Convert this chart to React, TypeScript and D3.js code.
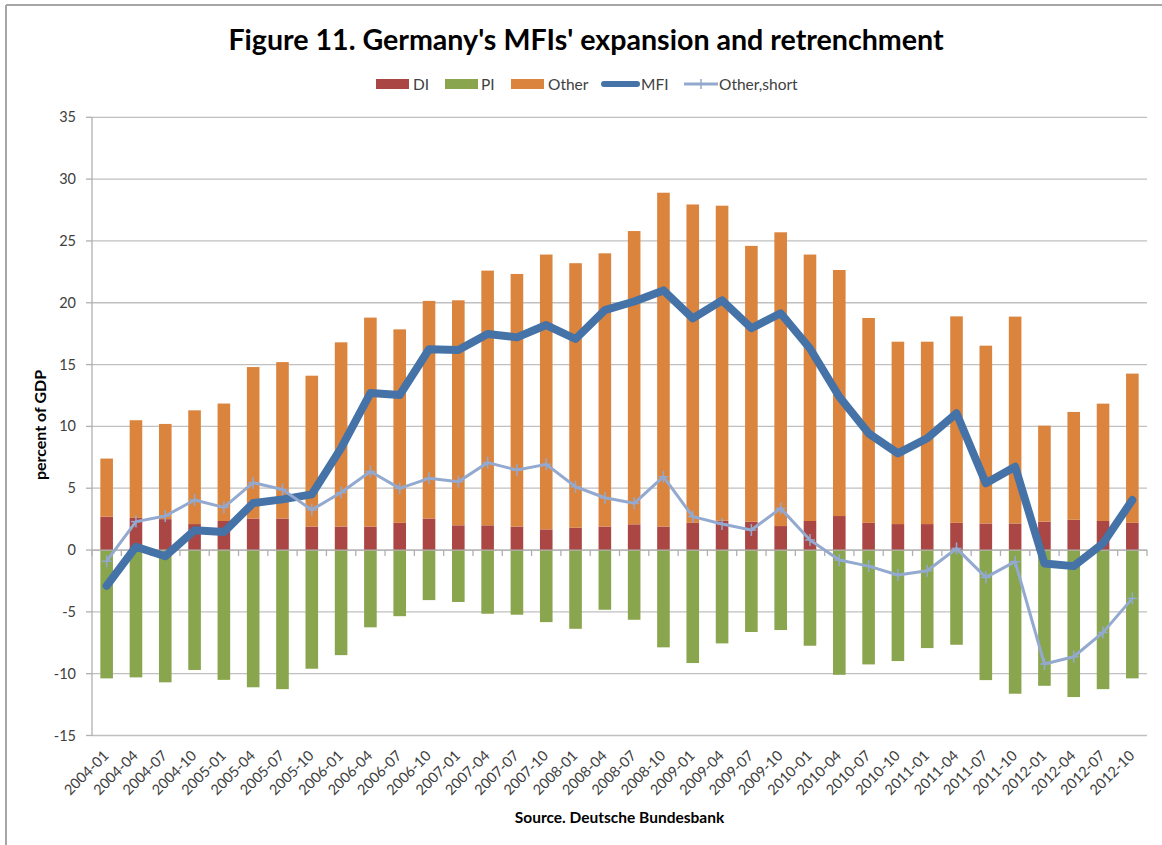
import React from "react";
import * as d3 from "d3";

const categories = [
  "2004-01","2004-04","2004-07","2004-10",
  "2005-01","2005-04","2005-07","2005-10",
  "2006-01","2006-04","2006-07","2006-10",
  "2007-01","2007-04","2007-07","2007-10",
  "2008-01","2008-04","2008-07","2008-10",
  "2009-01","2009-04","2009-07","2009-10",
  "2010-01","2010-04","2010-07","2010-10",
  "2011-01","2011-04","2011-07","2011-10",
  "2012-01","2012-04","2012-07","2012-10",
];

// DI (positive, bottom of positive stack)
const diValues = [
  2.7, 2.6, 2.5, 2.1,
  2.35, 2.55, 2.55, 1.9,
  1.9, 1.9, 2.2, 2.55,
  2.0, 2.0, 1.9, 1.67,
  1.8, 1.9, 2.08, 1.9,
  2.2, 2.37, 2.3, 1.94,
  2.35, 2.75, 2.2, 2.1,
  2.1, 2.2, 2.15, 2.15,
  2.3, 2.45, 2.35, 2.2,
];

// Top of positive stack (DI + Other)
const positiveTotals = [
  7.4, 10.5, 10.2, 11.3,
  11.85, 14.8, 15.2, 14.1,
  16.8, 18.8, 17.85, 20.15,
  20.2, 22.6, 22.33, 23.9,
  23.2, 24.0, 25.8, 28.9,
  27.95, 27.85, 24.6, 25.7,
  23.9, 22.65, 18.77, 16.85,
  16.85, 18.9, 16.53, 18.88,
  10.06, 11.17, 11.84, 14.27,
];

// Other = total - DI
const otherValues = positiveTotals.map((t, i) => +(t - diValues[i]).toFixed(2));

// PI (negative)
const piValues = [
  -10.38, -10.3, -10.7, -9.7,
  -10.5, -11.1, -11.25, -9.6,
  -8.5, -6.25, -5.35, -4.05,
  -4.2, -5.15, -5.23, -5.83,
  -6.37, -4.83, -5.64, -7.87,
  -9.14, -7.55, -6.63, -6.47,
  -7.74, -10.09, -9.25, -8.98,
  -7.93, -7.66, -10.52, -11.62,
  -10.98, -11.89, -11.25, -10.38,
];

const mfiValues = [
  -2.9, 0.27, -0.5, 1.6,
  1.45, 3.8, 4.1, 4.5,
  8.25, 12.7, 12.54, 16.24,
  16.18, 17.48, 17.2, 18.2,
  17.07, 19.4, 20.1, 21.0,
  18.74, 20.2, 17.94, 19.15,
  16.3, 12.4, 9.44, 7.82,
  9.04, 11.06, 5.4, 6.74,
  -1.08, -1.3, 0.54, 4.05,
];

const otherShortValues = [
  -0.9, 2.3, 2.75, 4.05,
  3.45, 5.45, 4.9, 3.25,
  4.65, 6.35, 4.99, 5.8,
  5.53, 7.07, 6.47, 6.93,
  5.12, 4.23, 3.78, 5.93,
  2.7, 2.1, 1.62, 3.37,
  0.81, -0.81, -1.3, -2.02,
  -1.67, 0.13, -2.21, -0.94,
  -9.22, -8.63, -6.66, -3.91,
];

const yTicks = [-15, -10, -5, 0, 5, 10, 15, 20, 25, 30, 35];

const COLORS = {
  DI: "#AA4643",
  PI: "#89A54E",
  Other: "#DB843D",
  MFI: "#4572A7",
  OtherShort: "#93A9CF",
};

const FONT = "Lato, 'Open Sans', 'DejaVu Sans', sans-serif";

export default function App() {
  const W = 1162;
  const H = 845;
  const left = 92;
  const right = 1147;
  const top = 117.3;
  const bottom = 735.5;

  const x = d3.scaleBand<string>().domain(categories).range([left, right]).padding(0);
  const y = d3.scaleLinear().domain([-15, 35]).range([bottom, top]);
  const step = x.step();
  const barW = step * 0.43;
  const cx = (c: string) => (x(c) as number) + step / 2;

  const line = d3
    .line<number>()
    .x((_, i) => cx(categories[i]))
    .y((d) => y(d));

  const boundaries = d3.range(categories.length + 1).map((i) => left + i * step);

  return (
    <svg
      width={W}
      height={H}
      style={{ position: "absolute", left: 0, top: 0, background: "#fff" }}
      fontFamily={FONT}
    >
      {/* outer frame */}
      <line x1={6} y1={5} x2={W} y2={5} stroke="#a6a6a6" strokeWidth={2} />
      <line x1={6} y1={5} x2={6} y2={H} stroke="#a6a6a6" strokeWidth={2} />

      {/* title */}
      <text
        x={586}
        y={50}
        textAnchor="middle"
        fontSize={28.6}
        fontWeight="bold"
        fill="#000"
      >
        Figure 11. Germany's MFIs' expansion and retrenchment
      </text>

      {/* legend */}
      <g fontSize={15.5} fill="#404040">
        <rect x={376} y={79} width={33} height={10} fill={COLORS.DI} />
        <text x={413} y={89.5}>DI</text>
        <rect x={445} y={79} width={33} height={10} fill={COLORS.PI} />
        <text x={481} y={89.5}>PI</text>
        <rect x={511} y={79} width={33} height={10} fill={COLORS.Other} />
        <text x={548} y={89.5}>Other</text>
        <line x1={604} y1={84} x2={637} y2={84} stroke={COLORS.MFI} strokeWidth={6} strokeLinecap="round" />
        <text x={641} y={89.5}>MFI</text>
        <line x1={684} y1={84} x2={718} y2={84} stroke={COLORS.OtherShort} strokeWidth={3} />
        <line x1={697} y1={84} x2={705} y2={84} stroke={COLORS.OtherShort} strokeWidth={1.5} />
        <line x1={701} y1={79} x2={701} y2={89} stroke={COLORS.OtherShort} strokeWidth={1.5} />
        <text x={719} y={89.5}>Other,short</text>
      </g>

      {/* gridlines */}
      {yTicks.map((t) => (
        <line
          key={"g" + t}
          x1={left}
          x2={right}
          y1={y(t)}
          y2={y(t)}
          stroke="#c0c0c0"
          strokeWidth={1.3}
        />
      ))}

      {/* y axis */}
      <line x1={left} x2={left} y1={top} y2={bottom} stroke="#b0b0b0" strokeWidth={1.3} />
      {yTicks.map((t) => (
        <g key={"yt" + t}>
          <line x1={left - 6} x2={left} y1={y(t)} y2={y(t)} stroke="#b0b0b0" strokeWidth={1.3} />
          <text
            x={76}
            y={y(t)}
            dy="0.35em"
            textAnchor="end"
            fontSize={14.5}
            fill="#404040"
          >
            {t}
          </text>
        </g>
      ))}

      {/* y axis title */}
      <text
        transform={`translate(46,425) rotate(-90)`}
        textAnchor="middle"
        fontSize={16}
        fontWeight="bold"
        fill="#000"
      >
        percent of GDP
      </text>

      {/* bars */}
      {categories.map((c, i) => (
        <g key={"b" + c}>
          <rect
            x={cx(c) - barW / 2}
            width={barW}
            y={y(diValues[i])}
            height={y(0) - y(diValues[i])}
            fill={COLORS.DI}
          />
          <rect
            x={cx(c) - barW / 2}
            width={barW}
            y={y(diValues[i] + otherValues[i])}
            height={y(diValues[i]) - y(diValues[i] + otherValues[i])}
            fill={COLORS.Other}
          />
          <rect
            x={cx(c) - barW / 2}
            width={barW}
            y={y(0)}
            height={y(piValues[i]) - y(0)}
            fill={COLORS.PI}
          />
        </g>
      ))}

      {/* category axis at zero */}
      <line x1={left} x2={right} y1={y(0)} y2={y(0)} stroke="#b0b0b0" strokeWidth={1.3} />
      {boundaries.map((bx, i) => (
        <line key={"xt" + i} x1={bx} x2={bx} y1={y(0)} y2={y(0) + 6} stroke="#b0b0b0" strokeWidth={1.3} />
      ))}

      {/* MFI line */}
      <path
        d={line(mfiValues) as string}
        fill="none"
        stroke={COLORS.MFI}
        strokeWidth={8}
        strokeLinejoin="round"
        strokeLinecap="round"
      />

      {/* Other,short line */}
      <path
        d={line(otherShortValues) as string}
        fill="none"
        stroke={COLORS.OtherShort}
        strokeWidth={3}
        strokeLinejoin="round"
      />
      {otherShortValues.map((v, i) => (
        <g key={"m" + i} stroke={COLORS.OtherShort} strokeWidth={1.5}>
          <line x1={cx(categories[i]) - 5} x2={cx(categories[i]) + 5} y1={y(v)} y2={y(v)} />
          <line x1={cx(categories[i])} x2={cx(categories[i])} y1={y(v) - 6} y2={y(v) + 6} />
        </g>
      ))}

      {/* x tick labels */}
      {categories.map((c) => (
        <text
          key={"xl" + c}
          transform={`translate(${cx(c) + 3},${bottom + 21}) rotate(-45)`}
          textAnchor="end"
          fontSize={14.5}
          fill="#404040"
        >
          {c}
        </text>
      ))}

      {/* source */}
      <text
        x={(left + right) / 2}
        y={823}
        textAnchor="middle"
        fontSize={15.5}
        fontWeight="bold"
        fill="#000"
      >
        Source. Deutsche Bundesbank
      </text>
    </svg>
  );
}
